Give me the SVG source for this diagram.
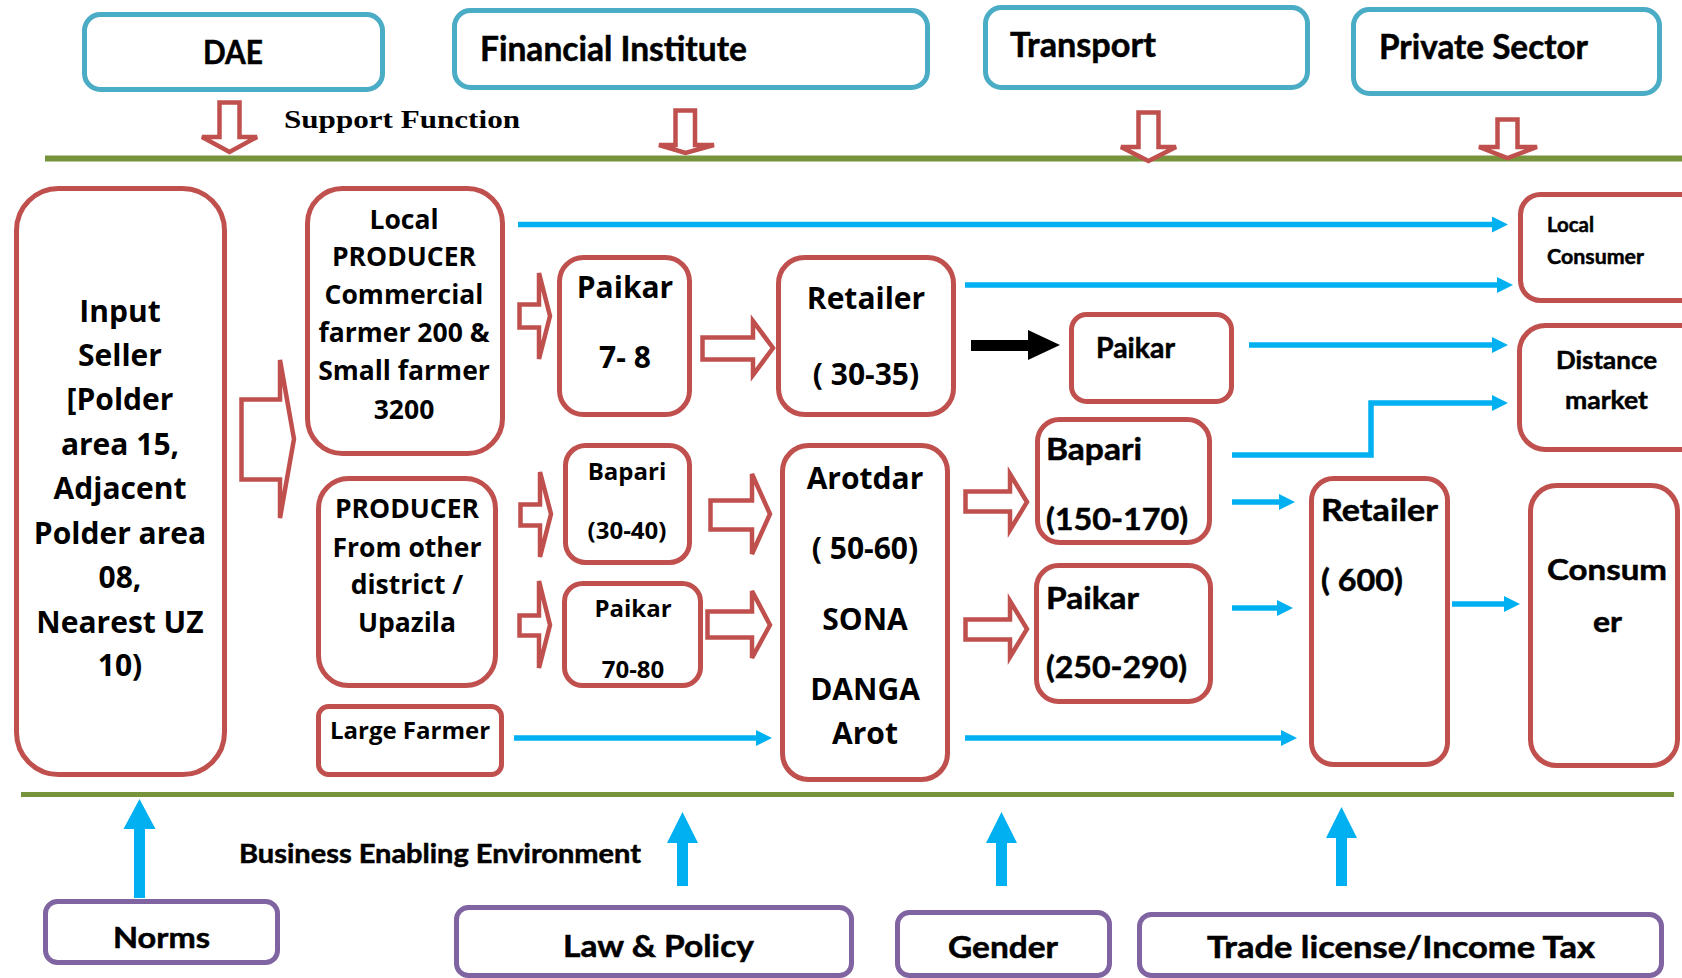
<svg xmlns="http://www.w3.org/2000/svg" width="1682" height="978" viewBox="0 0 1682 978">
<style>
.red{fill:#fff;stroke:#C0504D;stroke-width:5}
.teal{fill:#fff;stroke:#4BACC6;stroke-width:5}
.pur{fill:#fff;stroke:#8064A2;stroke-width:5}
.blk{fill:#fff;stroke:#C0504D;stroke-width:4.5;stroke-linejoin:miter}
.con{fill:none;stroke:#00B0F0;stroke-width:5.5;marker-end:url(#ah)}
.up{fill:#00B0F0}
.w{font-family:"Open Sans","DejaVu Sans",sans-serif;font-weight:700;fill:#000}
.c{font-family:Lato,"Liberation Sans",sans-serif;font-weight:700;fill:#000;stroke:#000;stroke-width:0.5}
.s{font-family:"Liberation Serif",serif;font-weight:700;fill:#000}
</style>
<defs>
<marker id="ah" markerUnits="userSpaceOnUse" markerWidth="18" markerHeight="18" refX="2" refY="8" orient="auto">
<path d="M0,0 L16,8 L0,16 z" fill="#00B0F0"/>
</marker>
</defs>
<rect width="1682" height="978" fill="#fff"/>

<!-- lines -->
<g id="lines">
<line x1="45" y1="158.5" x2="1682" y2="158.5" stroke="#77933C" stroke-width="6"/>
<line x1="21" y1="794.5" x2="1674" y2="794.5" stroke="#77933C" stroke-width="5"/>
</g>

<!-- support nodes -->
<g id="dae"><rect class="teal" x="84.5" y="14.5" width="298" height="75" rx="16"/><text class="c" x="203" y="64" font-size="32" textLength="60" lengthAdjust="spacingAndGlyphs">DAE</text></g>
<g id="financial"><rect class="teal" x="454.5" y="10.5" width="473" height="77" rx="16"/><text class="c" x="480" y="61" font-size="34" textLength="267" lengthAdjust="spacingAndGlyphs">Financial Institute</text></g>
<g id="transport"><rect class="teal" x="985.5" y="7.5" width="322" height="80" rx="16"/><text class="c" x="1010" y="57" font-size="34" textLength="146" lengthAdjust="spacingAndGlyphs">Transport</text></g>
<g id="private"><rect class="teal" x="1353.5" y="9.5" width="306" height="84" rx="16"/><text class="c" x="1379" y="59" font-size="34" textLength="209" lengthAdjust="spacingAndGlyphs">Private Sector</text></g>

<text class="s" x="284" y="128" font-size="26" textLength="236" lengthAdjust="spacingAndGlyphs">Support Function</text>

<!-- support arrows -->
<g id="support-arrows">
<polygon class="blk" points="219.5,102.5 239.5,102.5 239.5,137 257,137 229.5,152 202,137 219.5,137"/>
<polygon class="blk" points="675.5,110.5 695,110.5 695,145 714,145 685.5,153 659,145 675.5,145"/>
<polygon class="blk" points="1138.5,112.5 1158.5,112.5 1158.5,147 1176,147 1148.5,161 1121,147 1138.5,147"/>
<polygon class="blk" points="1497.5,119.5 1517.5,119.5 1517.5,147 1537,147 1507.5,158 1479,147 1497.5,147"/>
</g>

<!-- value chain nodes -->
<g id="input-seller"><rect class="red" x="16.5" y="188.5" width="208" height="586" rx="42"/>
<text class="w" font-size="30" text-anchor="middle"><tspan x="120" y="322">Input</tspan><tspan x="120" y="366">Seller</tspan><tspan x="120" y="410">[Polder</tspan><tspan x="120" y="455">area 15,</tspan><tspan x="120" y="499">Adjacent</tspan><tspan x="120" y="544">Polder area</tspan><tspan x="120" y="588">08,</tspan><tspan x="120" y="633">Nearest UZ</tspan><tspan x="120" y="676">10)</tspan></text></g>

<g id="local-producer"><rect class="red" x="307.5" y="188.5" width="195" height="265" rx="35"/>
<text class="w" font-size="26.5" text-anchor="middle"><tspan x="404" y="229">Local</tspan><tspan x="404" y="266">PRODUCER</tspan><tspan x="404" y="304">Commercial</tspan><tspan x="404" y="342">farmer 200 &amp;</tspan><tspan x="404" y="380">Small farmer</tspan><tspan x="404" y="419">3200</tspan></text></g>

<g id="producer-other"><rect class="red" x="318.5" y="478.5" width="177" height="207" rx="30"/>
<text class="w" font-size="26.5" text-anchor="middle"><tspan x="407" y="518">PRODUCER</tspan><tspan x="407" y="557">From other</tspan><tspan x="407" y="594">district /</tspan><tspan x="407" y="632">Upazila</tspan></text></g>

<g id="large-farmer"><rect class="red" x="318.5" y="706.5" width="183" height="68" rx="10"/>
<text class="w" font-size="24" text-anchor="middle" x="410" y="739">Large Farmer</text></g>

<g id="paikar-7-8"><rect class="red" x="559.5" y="257.5" width="130" height="157" rx="24"/>
<text class="w" font-size="30" text-anchor="middle"><tspan x="625" y="298">Paikar</tspan><tspan x="625" y="368">7- 8</tspan></text></g>

<g id="bapari-30-40"><rect class="red" x="565.5" y="445.5" width="124" height="117" rx="20"/>
<text class="w" font-size="24" text-anchor="middle"><tspan x="627" y="480">Bapari</tspan><tspan x="627" y="539">(30-40)</tspan></text></g>

<g id="paikar-70-80"><rect class="red" x="564.5" y="583.5" width="136" height="102" rx="18"/>
<text class="w" font-size="24" text-anchor="middle"><tspan x="633" y="617">Paikar</tspan><tspan x="633" y="678">70-80</tspan></text></g>

<g id="retailer-30-35"><rect class="red" x="778.5" y="257.5" width="175" height="157" rx="26"/>
<text class="w" font-size="30" text-anchor="middle"><tspan x="866" y="309">Retailer</tspan><tspan x="866" y="385">( 30-35)</tspan></text></g>

<g id="arotdar"><rect class="red" x="782.5" y="445.5" width="165" height="334" rx="26"/>
<text class="w" font-size="30" text-anchor="middle"><tspan x="865" y="489">Arotdar</tspan><tspan x="865" y="559">( 50-60)</tspan><tspan x="865" y="630">SONA</tspan><tspan x="865" y="700">DANGA</tspan><tspan x="865" y="744">Arot</tspan></text></g>

<g id="paikar-small"><rect class="red" x="1071.5" y="314.5" width="160" height="87" rx="15"/>
<text class="c" x="1096" y="358" font-size="29" textLength="79" lengthAdjust="spacingAndGlyphs">Paikar</text></g>

<g id="bapari-150-170"><rect class="red" x="1037.5" y="419.5" width="172" height="123" rx="22"/>
<text class="c" x="1046" y="460" font-size="31" textLength="96" lengthAdjust="spacingAndGlyphs">Bapari</text>
<text class="c" x="1046" y="530" font-size="31" textLength="142" lengthAdjust="spacingAndGlyphs">(150-170)</text></g>

<g id="paikar-250-290"><rect class="red" x="1036.5" y="565.5" width="174" height="136" rx="22"/>
<text class="c" x="1046" y="609" font-size="31" textLength="93" lengthAdjust="spacingAndGlyphs">Paikar</text>
<text class="c" x="1046" y="678" font-size="31" textLength="141" lengthAdjust="spacingAndGlyphs">(250-290)</text></g>

<g id="retailer-600"><rect class="red" x="1311.5" y="478.5" width="136" height="286" rx="22"/>
<text class="c" x="1321" y="521" font-size="31" textLength="117" lengthAdjust="spacingAndGlyphs">Retailer</text>
<text class="c" x="1321" y="591" font-size="31" textLength="82" lengthAdjust="spacingAndGlyphs">( 600)</text></g>

<g id="local-consumer"><rect class="red" x="1520.5" y="194.5" width="200" height="106" rx="20"/>
<text class="c" x="1547" y="232" font-size="21" textLength="47" lengthAdjust="spacingAndGlyphs">Local</text>
<text class="c" x="1547" y="264" font-size="21" textLength="97" lengthAdjust="spacingAndGlyphs">Consumer</text></g>

<g id="distance-market"><rect class="red" x="1519.5" y="325.5" width="200" height="124" rx="26"/>
<text class="c" x="1556" y="369" font-size="25" textLength="101" lengthAdjust="spacingAndGlyphs">Distance</text>
<text class="c" x="1565" y="409" font-size="25" textLength="83" lengthAdjust="spacingAndGlyphs">market</text></g>

<g id="consumer"><rect class="red" x="1530.5" y="485.5" width="147" height="280" rx="26"/>
<text class="c" x="1547" y="580" font-size="29" textLength="120" lengthAdjust="spacingAndGlyphs">Consum</text>
<text class="c" x="1593" y="632" font-size="29" textLength="29" lengthAdjust="spacingAndGlyphs">er</text></g>

<!-- enabling environment nodes -->
<g id="norms"><rect class="pur" x="45.5" y="901.5" width="232" height="61" rx="12"/><text class="c" x="113" y="948" font-size="29" textLength="97" lengthAdjust="spacingAndGlyphs">Norms</text></g>
<g id="law-policy"><rect class="pur" x="456.5" y="907.5" width="395" height="68" rx="12"/><text class="c" x="563" y="957" font-size="30" textLength="191" lengthAdjust="spacingAndGlyphs">Law &amp; Policy</text></g>
<g id="gender"><rect class="pur" x="897.5" y="912.5" width="212" height="63" rx="12"/><text class="c" x="948" y="958" font-size="30" textLength="110" lengthAdjust="spacingAndGlyphs">Gender</text></g>
<g id="trade"><rect class="pur" x="1139.5" y="914.5" width="522" height="61" rx="12"/><text class="c" x="1207" y="958" font-size="30" textLength="388" lengthAdjust="spacingAndGlyphs">Trade license/Income Tax</text></g>

<text class="c" x="239" y="863" font-size="26" textLength="402" lengthAdjust="spacingAndGlyphs">Business Enabling Environment</text>

<!-- connectors -->
<g id="connectors">
<polygon class="blk" points="241.5,399.5 280,399.5 280,360 294,439 280,518 280,479.5 241.5,479.5"/>
<polygon class="blk" points="519.5,304.5 539,304.5 539,273 550,316 539,359 539,327.5 519.5,327.5"/>
<polygon class="blk" points="520.5,504.5 540,504.5 540,472 551,514 540,557 540,525.5 520.5,525.5"/>
<polygon class="blk" points="519.5,615.5 539,615.5 539,581 550,625 539,668 539,635.5 519.5,635.5"/>
<polygon class="blk" points="702.5,337.5 753,337.5 753,321 773,348 753,375 753,359.5 702.5,359.5"/>
<polygon class="blk" points="710.5,500.5 752,500.5 752,474 770,514 752,554 752,529.5 710.5,529.5"/>
<polygon class="blk" points="707.5,611.5 752,611.5 752,591 770,625 752,658 752,637.5 707.5,637.5"/>
<polygon class="blk" points="965.5,491.5 1010,491.5 1010,474 1027,502 1010,530 1010,511.5 965.5,511.5"/>
<polygon class="blk" points="965.5,619.5 1010,619.5 1010,601 1027,629 1010,657 1010,639.5 965.5,639.5"/>

<polygon fill="#000" points="971,340 1028,340 1028,330 1060,345 1028,360 1028,351 971,351"/>

<path class="con" d="M518,224.5 H1494"/>
<path class="con" d="M965,285 H1499"/>
<path class="con" d="M1249,345 H1494"/>
<path class="con" d="M1232,455 H1371 V403 H1494"/>
<path class="con" d="M1232,502 H1281"/>
<path class="con" d="M1232,608 H1279"/>
<path class="con" d="M965,738 H1283"/>
<path class="con" d="M1452,604 H1506"/>
<path class="con" d="M514,738 H758"/>

<polygon class="up" points="134,898 145,898 145,829 155.5,829 139.5,799 123.5,829 134,829"/>
<polygon class="up" points="677,886 688,886 688,843 698,843 682.5,812 667,843 677,843"/>
<polygon class="up" points="996,886 1007,886 1007,843 1017,843 1001.5,812 986,843 996,843"/>
<polygon class="up" points="1336,886 1347,886 1347,838 1357,838 1341.5,807 1326,838 1336,838"/>
</g>
</svg>
